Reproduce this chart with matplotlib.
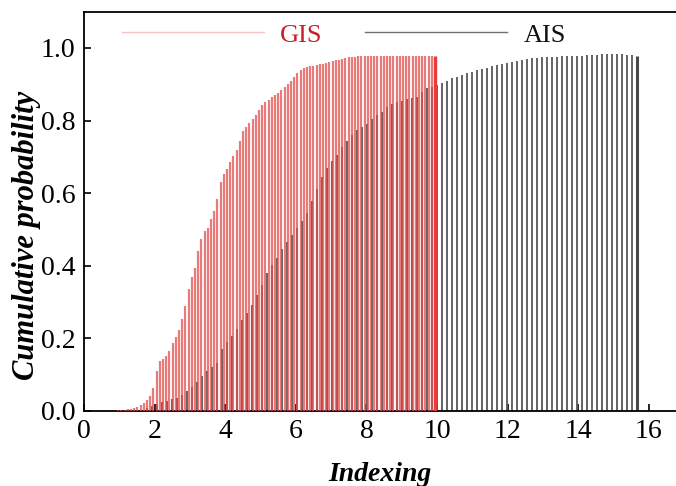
import numpy as np
import matplotlib
matplotlib.use("Agg")
import matplotlib.pyplot as plt
from matplotlib.lines import Line2D

plt.rcParams['font.family'] = ['Liberation Serif', 'DejaVu Serif']

# Index grids (101 samples per series)
gis_start, gis_stop = 0.88, 9.94
ais_start, ais_stop = 1.50, 15.66
n_points = 101

gis_cdf = [
    0.001, 0.002, 0.002, 0.003, 0.004, 0.006, 0.009, 0.012, 0.017, 0.023,
    0.030, 0.040, 0.062, 0.110, 0.138, 0.143, 0.150, 0.166, 0.188, 0.205,
    0.222, 0.252, 0.290, 0.335, 0.370, 0.395, 0.440, 0.475, 0.495, 0.505,
    0.528, 0.552, 0.585, 0.630, 0.652, 0.666, 0.685, 0.702, 0.718, 0.745,
    0.772, 0.783, 0.794, 0.805, 0.816, 0.828, 0.842, 0.850, 0.857, 0.864,
    0.871, 0.877, 0.885, 0.893, 0.900, 0.908, 0.920, 0.931, 0.940, 0.945,
    0.947, 0.949, 0.951, 0.953, 0.955, 0.957, 0.959, 0.962, 0.964, 0.966,
    0.968, 0.970, 0.972, 0.974, 0.975, 0.976, 0.977, 0.977, 0.978, 0.978,
    0.978, 0.978, 0.978, 0.978, 0.978, 0.978, 0.978, 0.978, 0.978, 0.978,
    0.978, 0.978, 0.978, 0.978, 0.978, 0.978, 0.978, 0.978, 0.978, 0.978,
    0.978,
]

ais_cdf = [
    0.001, 0.003, 0.007, 0.014, 0.020, 0.024, 0.028, 0.032, 0.036, 0.045,
    0.056, 0.065, 0.080, 0.095, 0.110, 0.120, 0.132, 0.170, 0.190, 0.207,
    0.225, 0.250, 0.270, 0.292, 0.320, 0.348, 0.380, 0.402, 0.422, 0.445,
    0.466, 0.485, 0.505, 0.522, 0.545, 0.578, 0.612, 0.645, 0.668, 0.688,
    0.706, 0.726, 0.745, 0.760, 0.775, 0.783, 0.791, 0.803, 0.814, 0.824,
    0.836, 0.845, 0.850, 0.854, 0.858, 0.861, 0.866, 0.878, 0.889, 0.893,
    0.899, 0.904, 0.910, 0.916, 0.921, 0.925, 0.930, 0.935, 0.939, 0.943,
    0.946, 0.949, 0.952, 0.955, 0.959, 0.962, 0.965, 0.968, 0.970, 0.972,
    0.973, 0.974, 0.975, 0.975, 0.976, 0.977, 0.977, 0.978, 0.978, 0.979,
    0.980, 0.980, 0.981, 0.982, 0.983, 0.983, 0.983, 0.982, 0.981, 0.980,
    0.977,
]

series_labels = ["GIS", "AIS"]
x_ticks = [0, 2, 4, 6, 8, 10, 12, 14, 16]
y_ticks = [0.0, 0.2, 0.4, 0.6, 0.8, 1.0]

gis_x = np.linspace(gis_start, gis_stop, n_points)
ais_x = np.linspace(ais_start, ais_stop, n_points)

fig = plt.figure(figsize=(6.76, 4.86), dpi=100)
ax = fig.add_axes([0.1243, 0.1545, 0.8757, 0.8215])

# AIS drop lines underneath, GIS drop lines on top with transparency
ax.vlines(ais_x[:-1], 0, ais_cdf[:-1], colors="#5e5e5e", linewidth=1.35, zorder=2)
ax.vlines(ais_x[-1:], 0, ais_cdf[-1:], colors="#4a4a4a", linewidth=2.2, zorder=2)
ax.vlines(gis_x[:-1], 0, gis_cdf[:-1], colors="#e04c4c", linewidth=1.6,
          alpha=0.74, zorder=3)
ax.vlines(gis_x[-1:], 0, gis_cdf[-1:], colors="#e63c3c", linewidth=2.4, zorder=3)

ax.set_xlim(0, 16.77)
ax.set_ylim(0, 1.1)
ax.set_xticks(x_ticks)
ax.set_xticklabels([str(t) for t in x_ticks])
ax.set_yticks(y_ticks)
ax.set_yticklabels([f"{t:.1f}" for t in y_ticks])
ax.tick_params(direction="in", length=5, width=1.2, labelsize=20,
               top=False, right=False)
ax.tick_params(axis="x", pad=6)
ax.tick_params(axis="y", pad=6)
ax.spines["right"].set_visible(False)
for s in ("left", "bottom", "top"):
    ax.spines[s].set_linewidth(1.3)

ax.set_xlabel("Indexing", fontsize=20, fontweight="bold", fontstyle="italic",
              labelpad=13)
ax.set_ylabel("Cumulative probability", fontsize=22, fontweight="bold",
              fontstyle="italic")
ax.yaxis.set_label_coords(-0.073, 0.44)

handles = [Line2D([], [], color="#f2c4c4", linewidth=1.0),
           Line2D([], [], color="#707070", linewidth=1.0)]
leg = ax.legend(handles, series_labels, loc="center left",
                bbox_to_anchor=(0.064, 0.942), ncol=2, frameon=False,
                fontsize=19, handlelength=5.4, handletextpad=0.6,
                columnspacing=1.6, borderpad=0, borderaxespad=0)
leg.get_texts()[0].set_color("#c8202a")
leg.get_texts()[1].set_color("#111111")

fig.savefig("out.png", dpi=100)
